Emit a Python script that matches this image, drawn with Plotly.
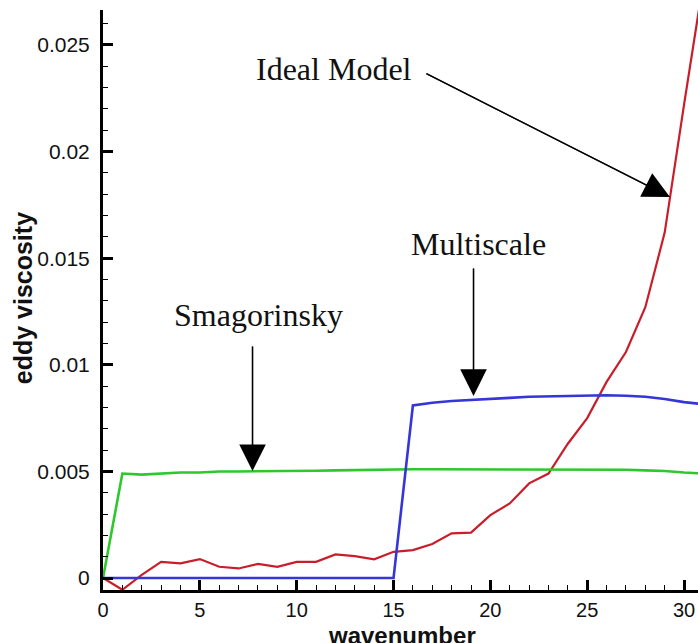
import plotly.graph_objects as go

wavenumber = list(range(0, 32))

ideal_model = [0, -0.00055, 0.00015, 0.00076, 0.00069, 0.00089, 0.00053, 0.00045,
               0.00066, 0.00053, 0.00076, 0.00076, 0.00111, 0.00103, 0.00088, 0.00123,
               0.00131, 0.0016, 0.0021, 0.00213, 0.00295, 0.0035, 0.00444, 0.0049,
               0.0063, 0.0075, 0.0092, 0.0106, 0.0127, 0.0162, 0.0222, 0.028]

smagorinsky = [0, 0.0049, 0.00485, 0.0049, 0.00495, 0.00495, 0.005, 0.005,
               0.005, 0.005, 0.00502, 0.00503, 0.00505, 0.00507, 0.00508, 0.0051,
               0.0051, 0.0051, 0.0051, 0.0051, 0.0051, 0.0051, 0.0051, 0.0051,
               0.0051, 0.0051, 0.0051, 0.00508, 0.00505, 0.00502, 0.00495, 0.0049]

multiscale = [0, 0, 0, 0, 0, 0, 0, 0, 0, 0, 0, 0, 0, 0, 0, 0,
              0.0081, 0.00822, 0.0083, 0.00836, 0.0084, 0.00845, 0.0085, 0.00852,
              0.00856, 0.00858, 0.00857, 0.00855, 0.0085, 0.0084, 0.00825, 0.00815]

x_ticks = [0, 5, 10, 15, 20, 25, 30]
y_ticks = [0, 0.005, 0.01, 0.015, 0.02, 0.025]
y_tick_text = ["0", "0.005", "0.01", "0.015", "0.02", "0.025"]

fig = go.Figure()
fig.add_trace(go.Scatter(x=wavenumber, y=ideal_model, mode="lines",
                         line=dict(color="#c81e2a", width=2.2), name="Ideal Model"))
fig.add_trace(go.Scatter(x=wavenumber, y=smagorinsky, mode="lines",
                         line=dict(color="#2ec82e", width=2.6), name="Smagorinsky"))
fig.add_trace(go.Scatter(x=wavenumber, y=multiscale, mode="lines",
                         line=dict(color="#3535d8", width=2.6), name="Multiscale"))

serif = "Liberation Serif, Times New Roman, serif"
sans = "Liberation Sans, Arial, sans-serif"

labels = [
    ("Smagorinsky", 8.05, 0.01234),
    ("Multiscale", 19.41, 0.01567),
    ("Ideal Model", 11.93, 0.02387),
]
for txt, lx, ly in labels:
    fig.add_annotation(x=lx, y=ly, xref="x", yref="y", text=txt, showarrow=False,
                       font=dict(family=serif, size=32, color="#111"),
                       xanchor="center", yanchor="middle")

arrows = [
    ((7.72, 0.00502), (7.72, 0.01093)),
    ((19.13, 0.00854), (19.13, 0.01459)),
    ((29.27, 0.01787), (16.62, 0.02369)),
]
for (tx, ty), (sx, sy) in arrows:
    # shaft
    fig.add_annotation(x=tx, y=ty, ax=sx, ay=sy, xref="x", yref="y", axref="x", ayref="y",
                       text="", showarrow=True, arrowhead=0, arrowwidth=1.3,
                       arrowcolor="#444", standoff=8)
    # head
    fig.add_annotation(x=tx, y=ty, ax=sx, ay=sy, xref="x", yref="y", axref="x", ayref="y",
                       text="", showarrow=True, arrowhead=2, arrowsize=3.8, arrowwidth=1.4,
                       arrowcolor="#000", standoff=0, startstandoff=0)

fig.add_annotation(x=0, y=0.503, xref="paper", yref="paper", xshift=-80,
                   text="<b>eddy viscosity</b>", showarrow=False, textangle=-90,
                   font=dict(family=sans, size=25, color="#111"),
                   xanchor="center", yanchor="middle")
fig.add_annotation(x=0.5025, y=0, xref="paper", yref="paper", yshift=-45,
                   text="<b>wavenumber</b>", showarrow=False,
                   font=dict(family=sans, size=24, color="#111"),
                   xanchor="center", yanchor="middle")

fig.update_xaxes(range=[0, 30.72], tickvals=x_ticks, showline=True, linewidth=3,
                 linecolor="black", ticks="inside", ticklen=10, tickwidth=2.5,
                 tickcolor="black", showgrid=False, zeroline=False,
                 tickfont=dict(family=sans, size=20, color="#111"),
                 minor=dict(ticks="inside", dtick=1, ticklen=5, tickwidth=1.2,
                            tickcolor="black", showgrid=False))
fig.update_yaxes(range=[-0.00056, 0.02664], tickvals=y_ticks, ticktext=y_tick_text,
                 showline=True, linewidth=3, linecolor="black", ticks="inside",
                 ticklen=10, tickwidth=2.5, tickcolor="black", showgrid=False,
                 zeroline=False, tickfont=dict(family=sans, size=21, color="#111"),
                 ticklabelstandoff=6,
                 minor=dict(ticks="inside", dtick=0.001, ticklen=5, tickwidth=1.2,
                            tickcolor="black", showgrid=False))

fig.update_layout(width=698, height=643, margin=dict(l=103, r=0, t=10, b=53),
                  plot_bgcolor="white", paper_bgcolor="white", showlegend=False)

fig.write_html("out.html", config={"displayModeBar": False},
               post_script="document.body.style.margin='0';document.body.style.overflow='hidden';")
